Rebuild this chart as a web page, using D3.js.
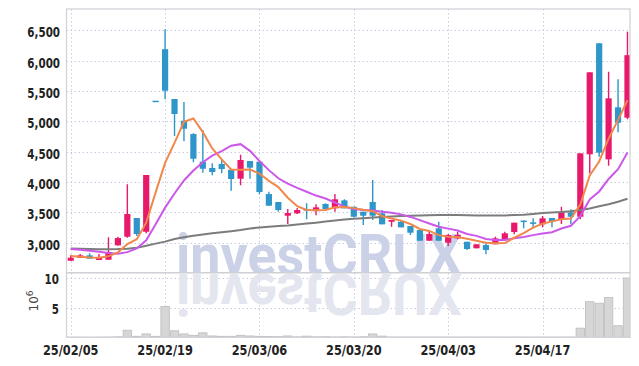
<!DOCTYPE html>
<html><head><meta charset="utf-8">
<script src="https://cdn.jsdelivr.net/npm/d3@7"></script>
<style>
body{margin:0;background:#fff;}
svg{display:block;}
</style></head><body>
<svg id="c" width="639" height="366"></svg>
<script>
const dates = ["25/02/05","25/02/06","25/02/07","25/02/10","25/02/11","25/02/12","25/02/13","25/02/14","25/02/17","25/02/18",
"25/02/19","25/02/20","25/02/21","25/02/24","25/02/25","25/02/26","25/02/27","25/02/28","25/03/04","25/03/05",
"25/03/06","25/03/07","25/03/10","25/03/11","25/03/12","25/03/13","25/03/14","25/03/17","25/03/18","25/03/19",
"25/03/20","25/03/21","25/03/24","25/03/25","25/03/26","25/03/27","25/03/28","25/03/31","25/04/01","25/04/02",
"25/04/03","25/04/04","25/04/07","25/04/08","25/04/09","25/04/10","25/04/11","25/04/14","25/04/15","25/04/16",
"25/04/17","25/04/18","25/04/21","25/04/22","25/04/23","25/04/24","25/04/25","25/04/28","25/04/29","25/04/30"];
const openP  = [2703,2753,2792,2715,2720,2957,3099,3407,3181,5340,6189,5368,5010,4791,4335,4231,4297,4203,4055,4346,
4335,3802,3671,3445,3484,3555,3522,3638,3567,3698,3593,3511,3671,3484,3346,3346,3275,3209,3033,3237,
3000,3072,3016,2908,2962,2974,3044,3176,3365,3335,3303,3407,3374,3501,3428,4457,6286,4374,5231,5060];
const highP  = [2792,2814,2825,2814,3089,3099,3962,3407,4116,5340,6516,5368,5318,4803,4857,4308,4374,4210,4450,4346,
4335,3840,3671,3555,3572,3649,3632,3649,3802,3715,3593,3511,4033,3539,3374,3360,3275,3209,3193,3346,
3143,3182,3016,2974,3016,3099,3182,3330,3365,3402,3440,3407,3593,3550,4473,5808,6286,5818,5692,6477];
const lowP   = [2700,2750,2736,2715,2720,2950,3082,3110,3155,5340,5363,4758,4671,4325,4153,4110,4143,3857,3946,4055,
3798,3610,3511,3308,3473,3385,3451,3555,3511,3567,3420,3292,3374,3303,3264,3253,3127,3033,3033,3033,
2946,3056,2880,2908,2809,2974,3044,3138,3237,3264,3253,3253,3308,3308,3385,4143,4417,4269,4819,5033];
const closeP = [2753,2792,2736,2753,2847,3077,3473,3143,4116,5340,5505,5121,4879,4384,4219,4165,4214,4050,4363,4236,
3835,3610,3539,3489,3539,3527,3583,3555,3715,3567,3428,3445,3445,3303,3374,3253,3165,3033,3143,3033,
3127,3127,2896,2974,2880,3072,3155,3330,3355,3330,3402,3341,3501,3428,4473,5808,4483,5379,4977,6090];
const volumeM = [0.03,0.03,0.02,0.03,0.05,0.08,1.2,0.17,0.57,0.17,5.2,1.1,0.57,0.34,0.75,0.23,0.17,0.17,0.34,0.23,
0.17,0.15,0.1,0.23,0.08,0.2,0.08,0.1,0.06,0.08,0.06,0.1,0.57,0.2,0.05,0.05,0.05,0.05,0.05,0.05,
0.05,0.04,0.05,0.04,0.05,0.05,0.04,0.05,0.04,0.04,0.05,0.04,0.05,0.05,1.55,6.0,5.75,6.7,1.95,10.0];
const ma5 = [2780,2768,2755,2752,2776,2841,2977,3059,3331,3830,4315,4645,4992,5046,4822,4554,4372,4206,4202,4206,
4140,4019,3917,3742,3602,3541,3535,3539,3584,3589,3570,3542,3520,3438,3399,3364,3308,3226,3194,3125,
3100,3093,3065,3031,3001,2990,2995,3082,3158,3248,3314,3352,3386,3400,3629,4110,4339,4714,5024,5347];
const ma10 = [2895,2885,2868,2850,2830,2820,2845,2905,3040,3303,3578,3811,4025,4189,4326,4435,4509,4599,4624,4514,
4347,4196,4062,3972,3904,3840,3777,3728,3663,3596,3555,3539,3529,3511,3494,3467,3425,3373,3316,3262,
3232,3200,3145,3113,3063,3045,3044,3074,3095,3125,3152,3174,3234,3279,3439,3712,3845,4050,4212,4488];
const ma60 = [2904,2900,2896,2892,2892,2895,2902,2918,2950,2985,3018,3060,3090,3115,3135,3155,3172,3190,3210,3235,
3250,3262,3274,3285,3300,3315,3330,3348,3365,3382,3395,3405,3415,3425,3432,3440,3445,3449,3452,3455,
3456,3455,3452,3450,3448,3448,3450,3455,3462,3475,3489,3498,3508,3520,3539,3565,3600,3635,3675,3725];
const priceTicks = [3000,3500,4000,4500,5000,5500,6000,6500];
const volumeTicks = [5,10];
const dateTicks = ["25/02/05","25/02/19","25/03/06","25/03/20","25/04/03","25/04/17"];

const svg = d3.select("#c");
const L = 66.5, R = 630, T = 9, M = 272.7, B = 337.3;
const UP = "#e8196b", DOWN = "#2e96c8";
const labelFont = '"DejaVu Sans Condensed","Liberation Sans Narrow",sans-serif';

const x = d3.scaleBand().domain(dates).range([66, 632.2]).padding(0);
const bw = x.bandwidth();
const cx = d => x(d) + bw / 2;
const y = d3.scaleLinear().domain([2506, 6851]).range([M, T]);
const yv = d3.scaleLinear().domain([0, 10]).range([B, 278]);

const defs = svg.append("defs");
defs.append("clipPath").attr("id","clipTop").append("rect").attr("x",L).attr("y",T).attr("width",R-L).attr("height",M-T);
defs.append("clipPath").attr("id","clipBot").append("rect").attr("x",L).attr("y",M).attr("width",R-L).attr("height",B-M);

// grids
const grid = svg.append("g").attr("stroke","#c9cbe3").attr("stroke-width",1).attr("stroke-dasharray","1.5,2.5");
grid.selectAll(".hy").data(priceTicks).join("line")
  .attr("x1",L).attr("x2",R).attr("y1",d=>Math.round(y(d))+0.5).attr("y2",d=>Math.round(y(d))+0.5);
grid.selectAll(".hv").data(volumeTicks).join("line")
  .attr("x1",L).attr("x2",R).attr("y1",d=>Math.round(yv(d))+0.5).attr("y2",d=>Math.round(yv(d))+0.5);
grid.selectAll(".vx").data(dateTicks).join("line")
  .attr("x1",d=>Math.round(cx(d))+0.5).attr("x2",d=>Math.round(cx(d))+0.5).attr("y1",T).attr("y2",B);

// watermark
const wmFont = "Roboto, 'Liberation Sans', sans-serif";
svg.append("g").attr("clip-path","url(#clipTop)").append("text")
  .attr("x",176).attr("y",275).attr("textLength",286).attr("lengthAdjust","spacingAndGlyphs")
  .attr("font-family",wmFont).attr("font-weight",700).attr("font-size",57)
  .attr("fill","#cbd1e6").text("investCRUX");
svg.append("g").attr("clip-path","url(#clipBot)").append("text")
  .attr("x",176).attr("y",275).attr("textLength",286).attr("lengthAdjust","spacingAndGlyphs")
  .attr("font-family",wmFont).attr("font-weight",700).attr("font-size",57)
  .attr("transform","translate(0,549) scale(1,-1)").attr("fill","#e3e5ef").text("investCRUX");

// volume bars
svg.append("g").attr("clip-path","url(#clipBot)").selectAll("rect").data(dates).join("rect")
  .attr("x",d=>x(d)+0.5).attr("width",bw-1)
  .attr("y",(d,i)=>yv(volumeM[i])).attr("height",(d,i)=>B-yv(volumeM[i]))
  .attr("fill","#d6d6d6").attr("stroke","#bdbdbd").attr("stroke-width",0.8);

// candles
const cg = svg.append("g").attr("clip-path","url(#clipTop)");
const bodyW = 6.2;
cg.selectAll(".wick").data(dates).join("line")
  .attr("x1",d=>cx(d)).attr("x2",d=>cx(d))
  .attr("y1",(d,i)=>y(highP[i])).attr("y2",(d,i)=>y(lowP[i]))
  .attr("stroke",(d,i)=>closeP[i]>openP[i]?UP:DOWN).attr("stroke-width",1.4);
cg.selectAll(".body").data(dates).join("rect")
  .attr("x",d=>cx(d)-bodyW/2).attr("width",bodyW)
  .attr("y",(d,i)=>y(Math.max(openP[i],closeP[i])))
  .attr("height",(d,i)=>Math.max(1.5, Math.abs(y(openP[i])-y(closeP[i]))))
  .attr("fill",(d,i)=>closeP[i]>openP[i]?UP:DOWN);

// moving averages
const line = arr => d3.line().x((d,i)=>cx(dates[i])).y(d=>y(d)).curve(d3.curveLinear)(arr);
cg.append("path").attr("d",line(ma60)).attr("fill","none").attr("stroke","#7c7c7c").attr("stroke-width",2);
cg.append("path").attr("d",line(ma10)).attr("fill","none").attr("stroke","#cc58ea").attr("stroke-width",2);
cg.append("path").attr("d",line(ma5)).attr("fill","none").attr("stroke","#f0884b").attr("stroke-width",2);

// frames
const fr = svg.append("g").attr("fill","none").attr("stroke","#cfcfd6").attr("stroke-width",1.2);
fr.append("rect").attr("x",L).attr("y",T).attr("width",R-L).attr("height",M-T);
fr.append("rect").attr("x",L).attr("y",M).attr("width",R-L).attr("height",B-M);

// axis labels
const fmt = d3.format(",");
const lab = (g, data, px, py, anchor, sx, txt) => g.selectAll("text").data(data).join("text")
  .attr("transform",d=>`translate(${px(d)},${py(d)}) scale(${sx},1)`).attr("text-anchor",anchor)
  .attr("font-family",labelFont).attr("font-size",14).attr("font-weight",700).attr("fill","#222")
  .text(txt);
lab(svg.append("g"), priceTicks, d=>60, d=>y(d)+7, "end", 0.82, d=>fmt(d));
lab(svg.append("g"), volumeTicks, d=>59, d=>yv(d)+6, "end", 0.82, d=>d);
lab(svg.append("g"), dateTicks, d=>cx(d), d=>355, "middle", 0.9, d=>d);
const ex = svg.append("text").attr("transform","translate(38,301) rotate(-90)").attr("text-anchor","middle")
  .attr("font-family","'DejaVu Sans',sans-serif").attr("font-size",12).attr("fill","#444");
ex.append("tspan").text("10");
ex.append("tspan").attr("dy",-5).attr("font-size",9).text("6");
</script>
</body></html>
